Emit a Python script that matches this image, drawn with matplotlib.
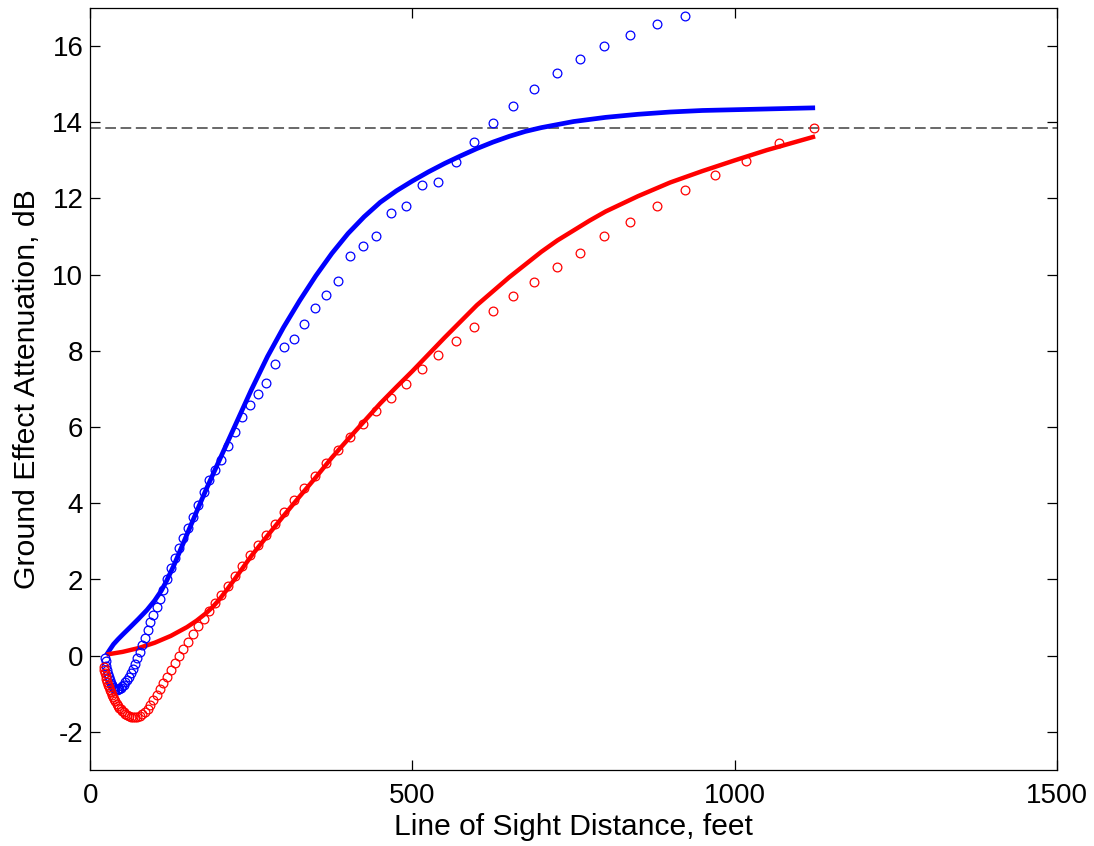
import matplotlib
matplotlib.use("Agg")
import matplotlib.pyplot as plt

plt.rcParams['font.family'] = ['Liberation Sans', 'DejaVu Sans']
plt.rcParams['axes.unicode_minus'] = False

# Measured points (circles): distance, feet
dist_meas = [20.5, 21.5, 22.6, 23.7, 24.9, 26.2, 27.5, 28.9, 30.3, 31.8, 33.4, 35.1,
             36.9, 38.7, 40.7, 42.7, 44.8, 47.1, 49.4, 51.9, 54.5, 57.2, 60.1, 63.1,
             66.2, 69.5, 73.0, 76.7, 80.5, 84.5, 88.8, 93.2, 97.9, 102.8, 107.9, 113.3,
             119.0, 124.9, 131.2, 137.7, 144.6, 151.8, 159.4, 167.4, 175.8, 184.6, 193.8,
             203.5, 213.7, 224.4, 235.6, 247.4, 259.7, 272.7, 286.4, 300.7, 315.7, 331.5,
             348.1, 365.5, 383.7, 402.9, 423.1, 444.2, 466.5, 489.8, 514.3, 540.0, 567.0,
             595.4, 625.1, 656.4, 689.2, 723.7, 759.8, 797.8, 837.7, 879.6, 923.6, 969.8,
             1018.3, 1069.2, 1122.7]

# Blue circles (22.6 ft .. 923.6 ft visible)
blue_meas_x = dist_meas[2:79]
blue_meas_y = [-0.05, -0.15, -0.27, -0.38, -0.48, -0.57, -0.65, -0.72, -0.78, -0.83,
               -0.86, -0.88, -0.89, -0.88, -0.87, -0.84, -0.8, -0.76, -0.7, -0.63,
               -0.55, -0.46, -0.35, -0.22, -0.07, 0.1, 0.27, 0.46, 0.67, 0.88,
               1.08, 1.28, 1.48, 1.72, 2.0, 2.3, 2.57, 2.82, 3.08, 3.35,
               3.65, 3.95, 4.3, 4.62, 4.88, 5.14, 5.51, 5.86, 6.26, 6.59,
               6.87, 7.15, 7.66, 8.11, 8.31, 8.71, 9.13, 9.48, 9.83, 10.48,
               10.76, 11.01, 11.63, 11.8, 12.36, 12.44, 12.95, 13.49, 13.97, 14.44,
               14.88, 15.29, 15.66, 16.0, 16.3, 16.57, 16.79]

# Red circles
red_meas_x = dist_meas
red_meas_y = [-0.3, -0.38, -0.46, -0.54, -0.62, -0.69, -0.76, -0.83, -0.9, -0.96,
              -1.02, -1.08, -1.14, -1.2, -1.26, -1.31, -1.36, -1.41, -1.45, -1.49,
              -1.53, -1.56, -1.59, -1.61, -1.62, -1.62, -1.61, -1.58, -1.53, -1.47,
              -1.39, -1.29, -1.17, -1.03, -0.88, -0.72, -0.55, -0.38, -0.2, -0.02,
              0.17, 0.37, 0.57, 0.77, 0.97, 1.18, 1.39, 1.6, 1.84, 2.09,
              2.35, 2.63, 2.9, 3.18, 3.46, 3.77, 4.08, 4.41, 4.72, 5.05,
              5.4, 5.73, 6.07, 6.41, 6.77, 7.13, 7.52, 7.89, 8.27, 8.63,
              9.04, 9.43, 9.8, 10.19, 10.58, 11.01, 11.39, 11.8, 12.21, 12.62,
              12.99, 13.46, 13.84]

# Model curves (solid lines)
blue_line_x = [25, 30, 36, 43, 50, 62, 75, 88, 100, 110, 118, 130, 140, 150, 165, 180,
               200, 225, 250, 275, 300, 325, 350, 375, 400, 425, 450, 475, 500, 525, 550,
               575, 600, 625, 650, 675, 700, 750, 800, 850, 900, 950, 1000, 1050, 1125]
blue_line_y = [0.02, 0.15, 0.3, 0.43, 0.55, 0.75, 0.97, 1.2, 1.45, 1.7, 1.95, 2.38, 2.78,
               3.18, 3.78, 4.37, 5.12, 6.05, 6.98, 7.85, 8.62, 9.32, 9.97, 10.56, 11.08,
               11.52, 11.9, 12.2, 12.46, 12.7, 12.92, 13.12, 13.31, 13.48, 13.63, 13.76,
               13.86, 14.02, 14.13, 14.21, 14.27, 14.31, 14.33, 14.35, 14.38]

red_line_x = [25, 50, 75, 100, 125, 150, 165, 180, 190, 200, 212, 225, 250, 275, 300, 325,
              350, 375, 400, 425, 450, 475, 500, 550, 600, 650, 700, 725, 750, 775, 800,
              850, 900, 950, 1000, 1050, 1125]
red_line_y = [0.03, 0.1, 0.2, 0.34, 0.52, 0.75, 0.92, 1.12, 1.28, 1.47, 1.73, 2.03, 2.62,
              3.15, 3.67, 4.18, 4.68, 5.2, 5.68, 6.15, 6.62, 7.05, 7.47, 8.35, 9.2, 9.93,
              10.6, 10.9, 11.16, 11.42, 11.66, 12.06, 12.42, 12.72, 13.0, 13.27, 13.63]

ref_level = 13.84

x_ticks = [0, 500, 1000, 1500]
y_ticks = [-2, 0, 2, 4, 6, 8, 10, 12, 14, 16]

fig = plt.figure(figsize=(10.94, 8.46), dpi=100)
ax = fig.add_axes([90.3 / 1094, (846 - 770) / 846, 966.4 / 1094, 762 / 846])

ax.axhline(ref_level, color='#404040', lw=1.1, linestyle=(0, (7, 3)), zorder=1)
ax.plot(blue_line_x, blue_line_y, color='#0000ff', lw=3.4, solid_capstyle='butt',
        solid_joinstyle='round', zorder=2)
ax.plot(red_line_x, red_line_y, color='#ff0000', lw=3.2, solid_capstyle='butt',
        solid_joinstyle='round', zorder=2)
ax.plot(blue_meas_x, blue_meas_y, 'o', mfc='none', mec='#0000ff', ms=6.3, mew=0.9, zorder=3)
ax.plot(red_meas_x, red_meas_y, 'o', mfc='none', mec='#ff0000', ms=6.3, mew=0.9, zorder=3)

ax.set_xlim(0, 1500)
ax.set_ylim(-3, 17)
ax.set_xticks(x_ticks)
ax.set_yticks(y_ticks)
ax.tick_params(direction='in', top=True, right=True, length=7, width=0.9, labelsize=20)
ax.tick_params(axis='x', pad=9)
ax.tick_params(axis='y', pad=5)
for s in ax.spines.values():
    s.set_linewidth(0.9)
ax.set_xlabel('Line of Sight Distance, feet', fontsize=21.6, labelpad=3)
ax.set_ylabel('Ground Effect Attenuation, dB', fontsize=21.8, labelpad=8)

fig.savefig('out.png', dpi=100)
